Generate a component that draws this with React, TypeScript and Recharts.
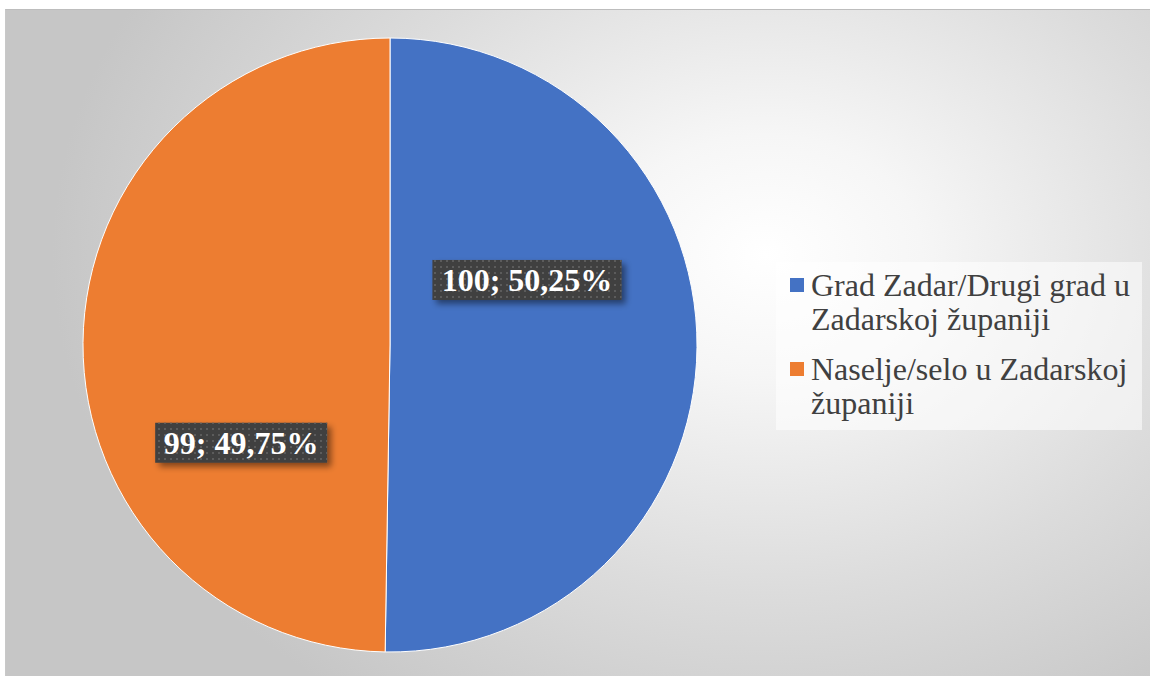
import React from 'react';
import { PieChart, Pie, Cell, Legend } from 'recharts';

const categories = ['Grad Zadar/Drugi grad u Zadarskoj županiji', 'Naselje/selo u Zadarskoj županiji'];
const counts = [100, 99];
const legendLines = [
  ['Grad Zadar/Drugi grad u', 'Zadarskoj županiji'],
  ['Naselje/selo u Zadarskoj', 'županiji'],
];
const sliceColors = ['#4472C4', '#ED7D31'];

const total = counts.reduce((s, v) => s + v, 0);
const chartData = categories.map((name, i) => ({
  name,
  value: counts[i],
  pct: ((counts[i] / total) * 100).toFixed(2).replace('.', ','),
}));

// Excel "best fit" label spots, as polar angle (deg) + fraction of radius
const labelSpots = [
  { angle: 25.4, r: 0.494 },
  { angle: 213.3, r: 0.58 },
];

const RAD = Math.PI / 180;

function DataLabel(props: any) {
  const { cx, cy, outerRadius, index, payload } = props;
  const spot = labelSpots[index];
  const x = cx + outerRadius * spot.r * Math.cos(spot.angle * RAD);
  const y = cy - outerRadius * spot.r * Math.sin(spot.angle * RAD);
  const text = `${payload.value}; ${payload.pct}%`;
  const w = text.length * 17.2;
  const h = 40;
  return (
    <g>
      <rect
        x={x - w / 2}
        y={y - h / 2}
        width={w}
        height={h}
        fill="#404040"
        filter="url(#lblShadow)"
      />
      <rect x={x - w / 2} y={y - h / 2} width={w} height={h} fill="url(#dots)" />
      <text
        x={x}
        y={y + 11}
        textAnchor="middle"
        fill="#ffffff"
        fontFamily="'Liberation Serif', 'Times New Roman', serif"
        fontWeight="bold"
        fontSize={32}
      >
        {text}
      </text>
    </g>
  );
}

function LegendBox() {
  return (
    <div
      style={{
        width: 366,
        height: 168,
        background: 'rgba(255,255,255,0.55)',
        fontFamily: "'Liberation Serif', 'Times New Roman', serif",
        fontSize: 32,
        color: '#404040',
        boxSizing: 'border-box',
        paddingTop: 6,
      }}
    >
      {legendLines.map((lines, i) => (
        <div key={i} style={{ display: 'flex', marginBottom: 16 }}>
          <div
            style={{
              width: 14,
              height: 14,
              background: sliceColors[i],
              marginLeft: 14,
              marginRight: 7,
              marginTop: 10,
              flexShrink: 0,
            }}
          />
          <div style={{ lineHeight: '34px' }}>
            {lines.map((l, j) => (
              <div key={j}>{l}</div>
            ))}
          </div>
        </div>
      ))}
    </div>
  );
}

export default function App() {
  return (
    <div style={{ position: 'fixed', left: 0, top: 0, width: 1150, height: 676, overflow: 'hidden', background: '#fff' }}>
      <div
        style={{
          position: 'absolute',
          left: 5,
          top: 9,
          width: 1150,
          height: 680,
          borderTop: '1px solid #bdbdbd',
          borderLeft: '1px solid #c8c8c8',
          background:
            'radial-gradient(ellipse 62% 80% at 66% 36%, #ffffff 0%, #f6f6f6 22%, #dcdcdc 62%, #c6c6c6 100%)',
        }}
      />
      <div style={{ position: 'absolute', left: 0, top: 0 }}>
        <PieChart width={1150} height={676} margin={{ top: 0, right: 0, bottom: 0, left: 0 }}>
          <defs>
            <pattern id="dots" width="6" height="6" patternUnits="userSpaceOnUse">
              <rect x="2" y="2" width="2" height="2" fill="#5c5c5c" />
            </pattern>
            <filter id="lblShadow" x="-20%" y="-30%" width="140%" height="170%">
              <feDropShadow dx="4" dy="4" stdDeviation="3" floodColor="#000" floodOpacity="0.45" />
            </filter>
          </defs>
          <Pie
            data={chartData}
            dataKey="value"
            nameKey="name"
            cx={390}
            cy={345}
            outerRadius={307}
            startAngle={90}
            endAngle={-270}
            stroke="#ffffff"
            strokeWidth={1}
            labelLine={false}
            label={DataLabel}
            isAnimationActive={false}
          >
            {chartData.map((d, i) => (
              <Cell key={d.name} fill={sliceColors[i]} />
            ))}
          </Pie>
          <Legend
            content={() => <LegendBox />}
            wrapperStyle={{ position: 'absolute', left: 776, top: 262, width: 366, height: 168 }}
          />
        </PieChart>
      </div>
    </div>
  );
}
